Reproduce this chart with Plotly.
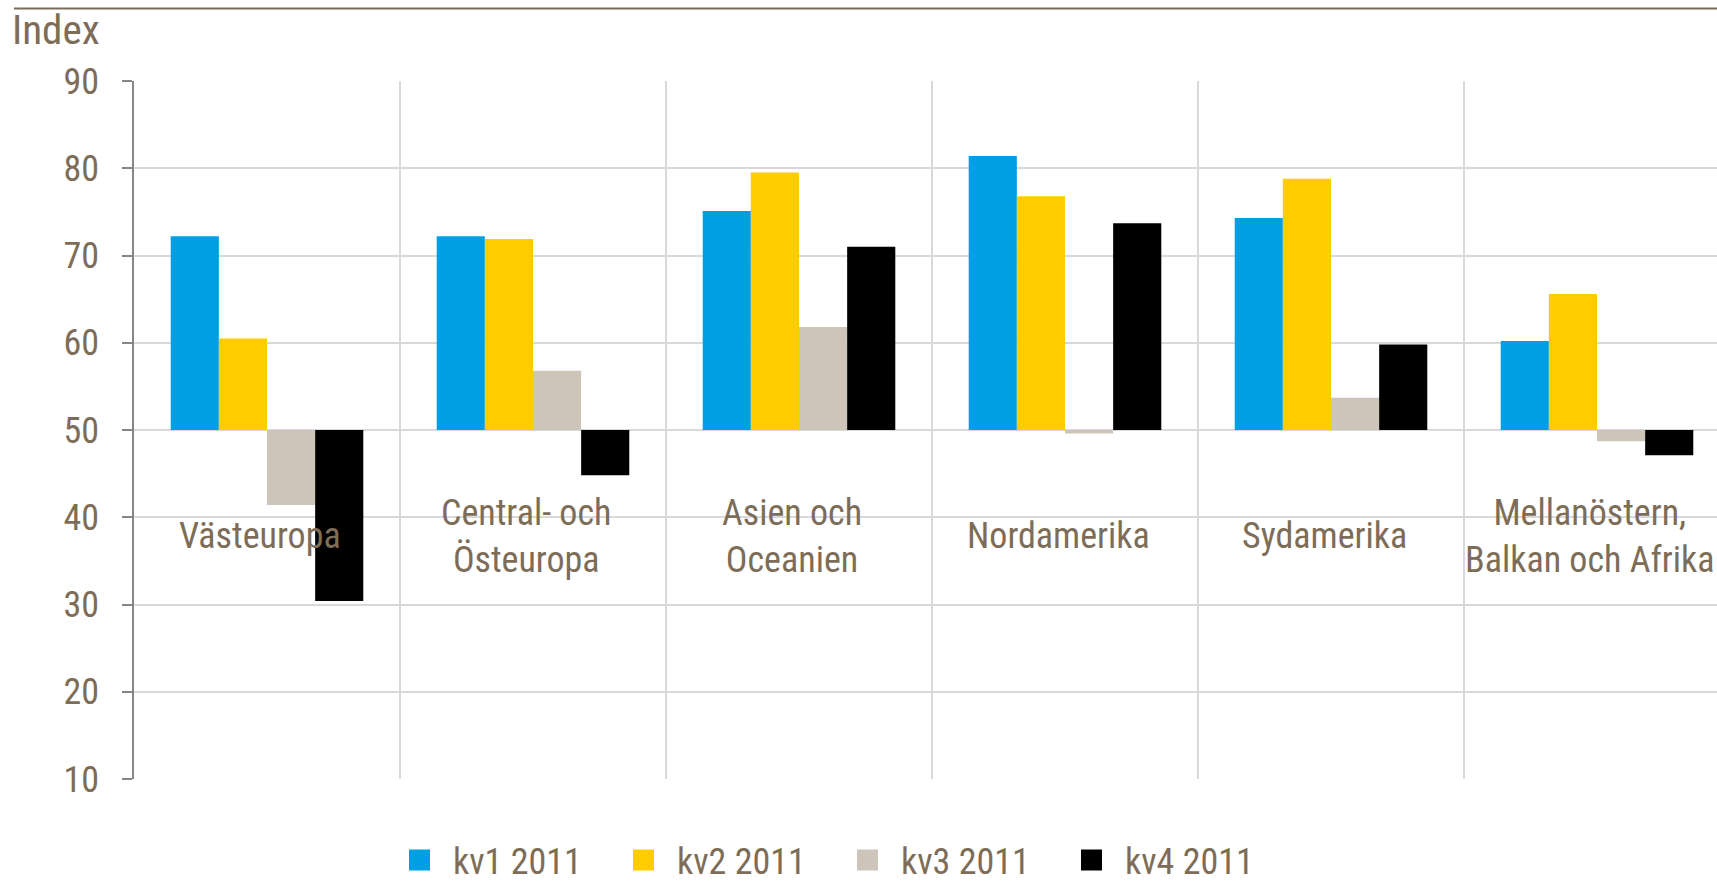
import plotly.graph_objects as go

categories = [
    "Västeuropa",
    "Central- och<br>Östeuropa",
    "Asien och<br>Oceanien",
    "Nordamerika",
    "Sydamerika",
    "Mellanöstern,<br>Balkan och Afrika",
]
series_names = ["kv1 2011", "kv2 2011", "kv3 2011", "kv4 2011"]
kv1 = [72.2, 72.2, 75.1, 81.4, 74.3, 60.2]
kv2 = [60.5, 71.9, 79.5, 76.8, 78.8, 65.6]
kv3 = [41.4, 56.8, 61.8, 49.6, 53.7, 48.7]
kv4 = [30.4, 44.8, 71.0, 73.7, 59.8, 47.1]
baseline = 50
y_ticks = [10, 20, 30, 40, 50, 60, 70, 80, 90]
y_label = "Index"

colors = ["#009FE3", "#FFCC00", "#CDC5BA", "#000000"]
text_color = "#7D6D58"
FONT = "Roboto Condensed, Liberation Sans, sans-serif"

W, H = 1717, 883
ML, MT, MB, MR = 134, 81, 104, 0
plot_w = W - ML - MR
plot_h = H - MT - MB
cat_w = 266.0

fig = go.Figure()
for name, vals, col in zip(series_names, [kv1, kv2, kv3, kv4], colors):
    fig.add_trace(go.Bar(
        x=categories, y=[v - baseline for v in vals], base=baseline,
        name=name, marker=dict(color=col, line=dict(width=0)),
        legendgroup=name, showlegend=False,
    ))
for name, col in zip(series_names, colors):
    fig.add_trace(go.Scatter(
        x=[None], y=[None], mode="markers", name=name, legendgroup=name,
        marker=dict(symbol="square", size=16, color=col, line=dict(color=col, width=5)),
    ))

for cat in categories:
    fig.add_annotation(x=cat, y=37.8, xref="x", yref="y", text=cat, showarrow=False,
                       xanchor="center", yanchor="middle", xshift=-7,
                       font=dict(family=FONT, size=36, color=text_color))

fig.add_annotation(x=(10 - ML) / plot_w, y=(H - MB - 30) / plot_h, xref="paper", yref="paper",
                   text=y_label, showarrow=False, xanchor="left", yanchor="middle",
                   font=dict(family=FONT, size=41, color=text_color))

fig.add_shape(type="line", xref="paper", yref="paper",
              x0=(14 - ML) / plot_w, x1=1, y0=(H - MB - 8.5) / plot_h, y1=(H - MB - 8.5) / plot_h,
              line=dict(color=text_color, width=2))

fig.update_layout(
    width=W, height=H,
    margin=dict(l=ML, r=MR, t=MT, b=MB, autoexpand=False),
    paper_bgcolor="white", plot_bgcolor="white",
    barmode="group", bargap=0.276, bargroupgap=0,
    font=dict(family=FONT, size=36, color=text_color),
    legend=dict(orientation="h", xref="container", yref="container",
                x=386 / W, y=1 - 860 / H, xanchor="left", yanchor="middle",
                font=dict(family=FONT, size=36, color=text_color),
                itemwidth=57, entrywidth=152, itemclick=False, itemdoubleclick=False),
    xaxis=dict(range=[-0.5, -0.5 + plot_w / cat_w], showticklabels=False, ticks="",
               showgrid=True, gridcolor="#D9D9D9", gridwidth=1.5, tickson="boundaries",
               showline=False, zeroline=False, automargin=False, fixedrange=True),
    yaxis=dict(range=[10, 90], tickvals=y_ticks, ticks="outside", ticklen=10,
               tickcolor="#868686", tickwidth=1.5, showline=True, linecolor="#868686",
               linewidth=1.5, showgrid=True, gridcolor="#D9D9D9", gridwidth=1.5,
               zeroline=False, ticklabelstandoff=16, automargin=False, fixedrange=True,
               tickfont=dict(family=FONT, size=36, color=text_color)),
)

fig.write_html("out.html", post_script="document.body.style.margin='0';",
               config={"displayModeBar": False})
